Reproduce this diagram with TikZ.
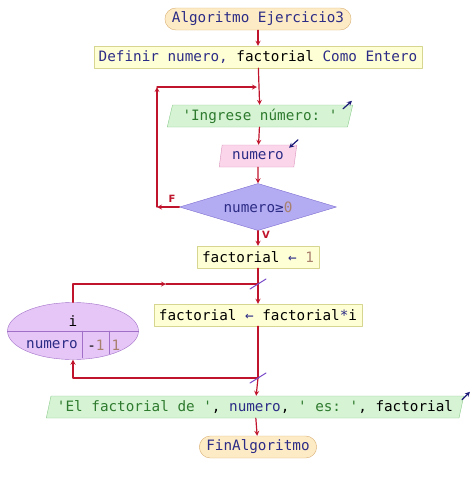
\documentclass[tikz,border=0pt]{standalone}
\usepackage{fontspec}
\setmonofont{DejaVu Sans Mono}
\setsansfont{DejaVu Sans}
\usetikzlibrary{shapes.geometric}
\definecolor{flowred}{HTML}{C0142C}
\definecolor{ionavy}{HTML}{1C1C78}
\definecolor{kwblue}{HTML}{2C2C86}
\definecolor{strgreen}{HTML}{2E7A2E}
\definecolor{numbrown}{HTML}{A8806E}
\definecolor{termfill}{HTML}{FDEBC6}
\definecolor{termline}{HTML}{D8AE72}
\definecolor{procfill}{HTML}{FFFFD6}
\definecolor{procline}{HTML}{D6D690}
\definecolor{outfill}{HTML}{D6F4D4}
\definecolor{outline}{HTML}{8CCB8C}
\definecolor{infill}{HTML}{FBD6EA}
\definecolor{inline}{HTML}{D894BC}
\definecolor{condfill}{HTML}{B4ACF2}
\definecolor{condline}{HTML}{7C6CD0}
\definecolor{loopfill}{HTML}{E6C6F6}
\definecolor{loopline}{HTML}{A070C8}
\definecolor{slashc}{HTML}{7A4CC8}
\newcommand{\kw}[1]{\textcolor{kwblue}{#1}}
\newcommand{\str}[1]{\textcolor{strgreen}{#1}}
\newcommand{\nm}[1]{\textcolor{numbrown}{#1}}
\begin{document}
\begin{tikzpicture}[x=1pt, y=-1pt, >=stealth, font=\ttfamily\fontsize{14.3}{16}\selectfont, line join=round, line cap=round,
	term/.style={rectangle, rounded corners=11pt, draw=termline, fill=termfill, minimum height=22pt, inner xsep=7pt, inner ysep=0pt},
	proc/.style={rectangle, draw=procline, fill=procfill, minimum height=22pt, inner xsep=5pt, inner ysep=0pt},
	outp/.style={trapezium, trapezium left angle=70, trapezium right angle=110, trapezium stretches body=true, draw=outline, fill=outfill, minimum height=22pt, inner xsep=10pt, inner ysep=0pt},
	inp/.style={outp, draw=inline, fill=infill},
	cond/.style={diamond, aspect=3.3, draw=condline, fill=condfill, minimum width=157pt, minimum height=47pt, inner sep=0pt},
	loopnode/.style={ellipse, draw=loopline, fill=loopfill, minimum width=131pt, minimum height=57pt, inner sep=0pt},
	flow/.style={draw=flowred, line width=1.2pt},
	ioarrow/.style={draw=ionavy, line width=1.2pt, ->},
	slash/.style={draw=slashc, line width=1pt},
	lbl/.style={text=flowred, font=\sffamily\bfseries\fontsize{10}{12}\selectfont}
	]
	\useasboundingbox (0,0) rectangle (474,483);
	% nodos principales
	\node[term] (start) at (258,19) {\kw{Algoritmo Ejercicio3}};
	\node[proc] (defvars) at (258,57) {\kw{Definir numero,} factorial \kw{Como Entero}};
	\node[outp] (prompt) at (260,116) {\str{'Ingrese número: '}};
	\node[inp] (readnum) at (258,156) {\kw{numero}};
	\node[cond] (cond) at (258,207) {\kw{numero≥}\nm{0}};
	\node[proc] (fact1) at (258,257) {factorial \kw{←} \nm{1}};
	\node[proc] (body) at (258,315) {factorial \kw{←} factorial\kw{*}i};
	\node[outp, inner xsep=6pt] (result) at (255,407) {\str{'El factorial de '}, \kw{numero}, \str{' es: '}, factorial};
	\node[term] (finish) at (258,447) {\kw{FinAlgoritmo}};
	% ciclo Para
	\node[loopnode] (forloop) at (73,331) {};
	\draw[draw=loopline] (forloop.west) -- (forloop.east);
	\draw[draw=loopline] (82,331) -- (82,358);
	\draw[draw=loopline] (109,331) -- (109,354);
	\node (forvar) at (73,321) {i};
	\node (forend) at (52,345) {\kw{numero}};
	\node (forstep) at (96,345) {-\nm{1}};
	\node (forinc) at (116,345) {\nm{1}};
	% etiquetas
	\node[lbl] (flbl) at (172,199) {F};
	\node[lbl] (vlbl) at (266,235) {V};
	% puntos de union
	\coordinate (wleft) at (157,207);
	\coordinate (wcorner) at (157,87);
	\coordinate (wjoin) at (257,87);
	\coordinate (ftop) at (258,284);
	\coordinate (fmid) at (166,284);
	\coordinate (fbot) at (258,378);
	% conectores
	\draw[flow,->] (start) -- (defvars);
	\draw[flow,->] (defvars) -- (prompt);
	\draw[flow,->] (prompt) -- (readnum);
	\draw[flow,->] (readnum) -- (cond);
	\draw[flow,->] (cond.west) -- (wleft);
	\draw[flow,->] (wleft) -- (wcorner);
	\draw[flow,->] (wcorner) -- (wjoin);
	\draw[flow,->] (cond) -- (fact1);
	\draw[flow] (fact1) -- (ftop);
	\draw[flow,->] (ftop) -- (body);
	\draw[flow,->] (forloop.north) |- (fmid);
	\draw[flow] (fmid) -- (ftop);
	\draw[flow] (body) -- (fbot);
	\draw[flow,->] (fbot) -| (forloop.south);
	\draw[flow,->] (fbot) -- (result);
	\draw[flow,->] (result) -- (finish);
	\draw[slash] ([shift={(-8,5)}]ftop) -- ([shift={(8,-5)}]ftop);
	\draw[slash] ([shift={(-8,5)}]fbot) -- ([shift={(8,-5)}]fbot);
	% flechas de entrada/salida
	\draw[ioarrow] ([xshift=-10pt,yshift=-4pt]prompt.top right corner) -- ++(9,-8);
	\draw[ioarrow] ([xshift=1pt,yshift=5pt]readnum.top right corner) -- ++(-9,8);
	\draw[ioarrow] ([xshift=-2pt,yshift=-4pt]result.top right corner) -- ++(8,-8);
\end{tikzpicture}
\end{document}
